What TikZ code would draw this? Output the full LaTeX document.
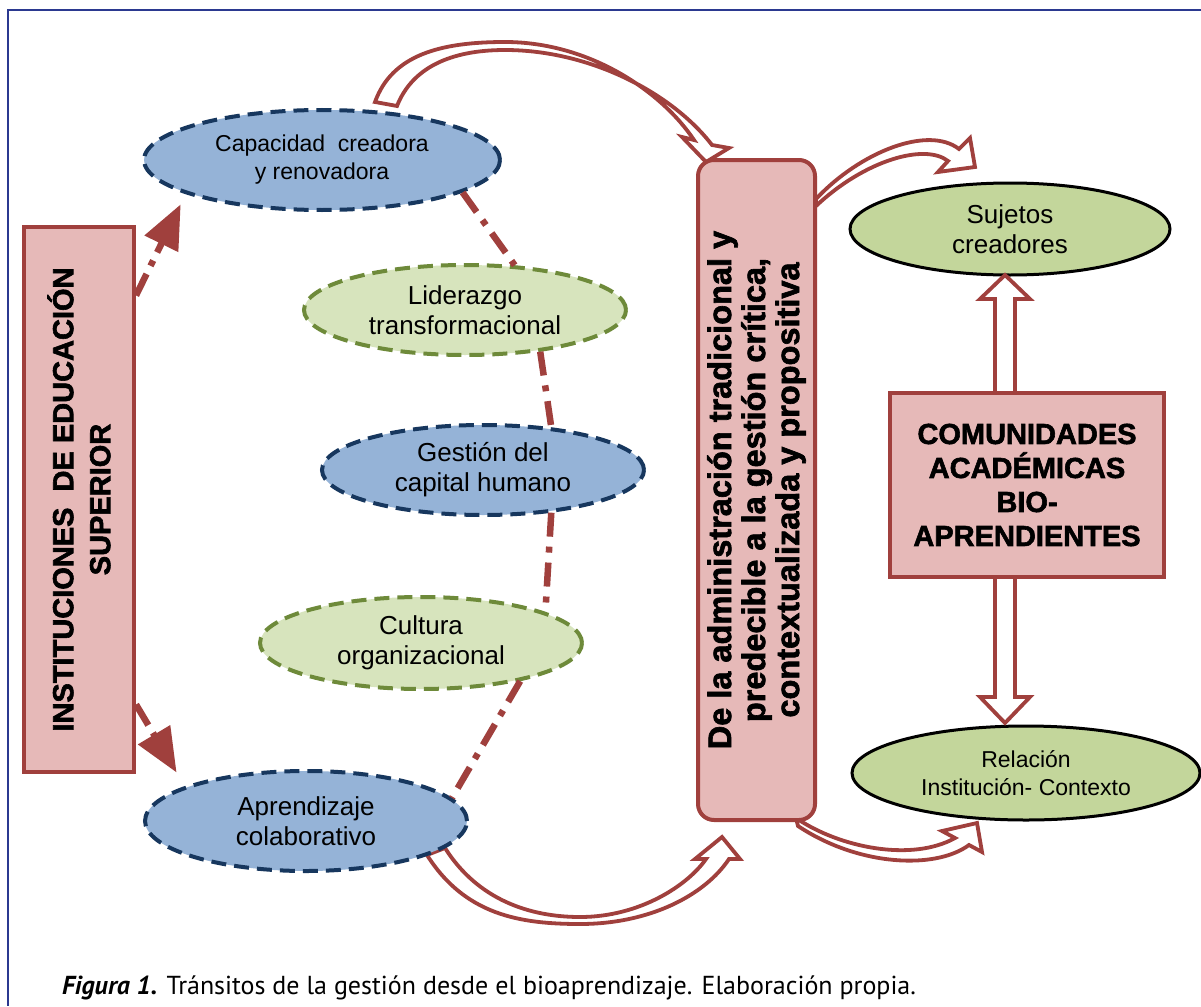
\documentclass[tikz,border=0pt]{standalone}
\usepackage{fontspec}
\setmainfont{Liberation Sans}
\newfontface\heavy{Liberation Sans Bold}[FakeBold=2]
\newfontfamily\capfont{PT Sans}
\usetikzlibrary{arrows.meta,shapes.geometric,calc}
\definecolor{pinkfill}{HTML}{E6B9B8}
\definecolor{redline}{HTML}{A0403D}
\definecolor{bluefill}{HTML}{95B3D7}
\definecolor{blueline}{HTML}{17375E}
\definecolor{greenfill}{HTML}{D7E4BD}
\definecolor{greenline}{HTML}{6E8A3A}
\definecolor{gfilltwo}{HTML}{C3D69B}
\definecolor{framecol}{HTML}{2B3990}
\begin{document}
\begin{tikzpicture}[x=1pt,y=-1pt,
  blueell/.style={ellipse, draw=blueline, fill=bluefill, line width=4pt, dash pattern=on 15pt off 8pt, inner sep=0pt, align=center, font=\fontsize{26}{30}\selectfont},
  greenell/.style={ellipse, draw=greenline, fill=greenfill, line width=4pt, dash pattern=on 15pt off 8pt, inner sep=0pt, align=center, font=\fontsize{26}{30}\selectfont},
  solidell/.style={ellipse, draw=black, fill=gfilltwo, line width=3pt, inner sep=0pt, align=center, font=\fontsize{26}{30}\selectfont},
  pinkbox/.style={draw=redline, fill=pinkfill, line width=4pt, align=center, inner sep=0pt},
  hollow/.style={draw=redline, fill=white, line width=3.8pt, line join=miter},
  dotline/.style={draw=redline, line width=6.5pt, dash pattern=on 24pt off 10pt on 6pt off 10pt},
  iesarrow/.style={draw=redline, line width=6.5pt, dash pattern=on 24pt off 9pt on 6pt off 9pt, -{Triangle[length=44pt,width=36pt]}}
]
\useasboundingbox (0,0) rectangle (1201,1006);
\fill[white] (0,0) rectangle (1201,1006);
\draw[framecol, line width=2.5pt] (1201,10) -- (8,10) -- (8,1006);

% curved hollow arrows (drawn first)
\path[hollow] (375,102) .. controls (392,55) and (440,42) .. (505,42)
  .. controls (590,42) and (662,92) .. (694,140) -- (682,137) -- (706,162) -- (729,148) -- (712,145)
  .. controls (672,93) and (590,50) .. (505,50) .. controls (450,50) and (412,68) .. (397,106) -- cycle;
\path[hollow] (427,855) .. controls (465,915) and (520,924) .. (580,924)
  .. controls (650,924) and (705,895) .. (729,859) -- (740,859) -- (722,837) -- (695,859) -- (706,859)
  .. controls (688,885) and (640,917) .. (580,917) .. controls (530,917) and (478,900) .. (445,848) -- cycle;
\path[hollow] (816,199) .. controls (860,152) and (928,125) .. (959,149) -- (970,138) -- (975,167) -- (938,172) -- (948,161)
  .. controls (925,143) and (865,160) .. (816,206) -- cycle;
\path[hollow] (796,818) .. controls (840,848) and (912,862) .. (955,838) -- (942,831) -- (977,823) -- (982,852) -- (969,845)
  .. controls (935,870) and (858,866) .. (798,826) -- cycle;

% boxes
\node[pinkbox, rotate=90, minimum width=545pt, minimum height=110pt, font=\heavy\fontsize{29}{37}\selectfont] (ies) at (79,499.5) {INSTITUCIONES\ \ DE EDUCACIÓN\\SUPERIOR};
\node[pinkbox, rounded corners=16pt, rotate=90, minimum width=660pt, minimum height=117pt, font=\heavy\fontsize{32.5}{34}\selectfont] (mid) at (756.5,490) {De la administración tradicional y\\predecible a la gestión crítica,\\contextualizada y propositiva};
\node[pinkbox, minimum width=274pt, minimum height=184pt, font=\heavy\fontsize{29}{34}\selectfont] (com) at (1027,485) {COMUNIDADES\\ACADÉMICAS\\BIO-\\APRENDIENTES};

% ellipses
\node[blueell, minimum width=356pt, minimum height=100pt, font=\fontsize{23}{28}\selectfont] (cap) at (322,160) {Capacidad\ \ creadora\\y renovadora};
\node[greenell, minimum width=322pt, minimum height=90pt] (lid) at (465,310) {Liderazgo\\transformacional};
\node[blueell, minimum width=322pt, minimum height=90pt] (gest) at (483,470) {Gestión del\\capital humano};
\node[greenell, minimum width=322pt, minimum height=92pt] (cult) at (421,643) {Cultura\\organizacional};
\node[blueell, minimum width=322pt, minimum height=100pt] (apr) at (306,821) {Aprendizaje\\colaborativo};
\node[solidell, minimum width=320pt, minimum height=92pt] (suj) at (1010,229) {Sujetos\\creadores};
\node[solidell, minimum width=348pt, minimum height=94pt, font=\fontsize{23}{28}\selectfont] (rel) at (1026,773) {Relación\\Institución- Contexto};

% dash-dot chain
\draw[dotline] (cap.-13) -- (lid.42);
\draw[dotline] (lid.-29) -- (gest.32);
\draw[dotline] (gest.-32) -- (cult.14);
\draw[dotline] (cult.-21) -- (apr.9);

% dashed arrows from IES
\draw[iesarrow, shorten >=11.5pt] ($(ies.south)+(0,-204)$) -- (cap.-166);
\draw[iesarrow, shorten >=16pt] ($(ies.south)+(0,205)$) -- (apr.164);

% vertical hollow arrows
\path[hollow] (995,393) -- (995,299) -- (980,299) -- (1005,275) -- (1030,299) -- (1015,299) -- (1015,393) -- cycle;
\path[hollow] (995,577) -- (995,697) -- (980,697) -- (1005,723) -- (1030,697) -- (1015,697) -- (1015,577) -- cycle;

% caption
\node[anchor=base west, inner sep=0pt, font=\capfont\fontsize{26}{30}\selectfont] (cap1) at (62,994) {\textbf{\textit{Figura 1.}} Tránsitos de la gestión desde el bioaprendizaje. Elaboración propia.};
\end{tikzpicture}
\end{document}
